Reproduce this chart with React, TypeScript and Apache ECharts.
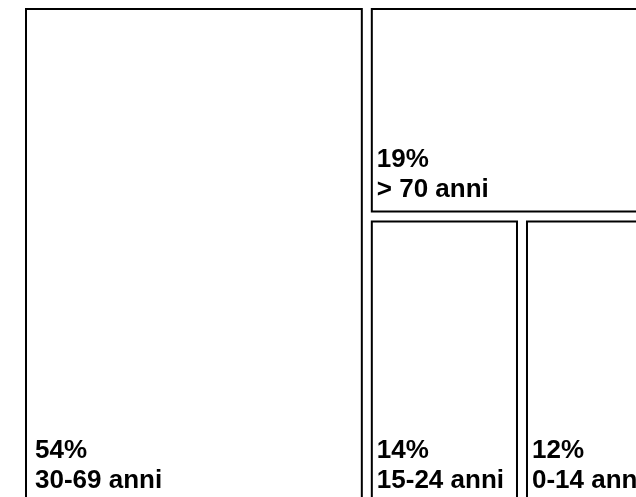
import React, { useEffect, useRef } from "react";
import * as echarts from "echarts";

const categories = ["30-69 anni", "> 70 anni", "15-24 anni", "0-14 anni"];
const percentages = [54, 19, 14, 12];
const labelLeftPadding = [8, 4, 4, 4];

export default function App() {
  const ref = useRef<HTMLDivElement>(null);
  useEffect(() => {
    if (!ref.current) return;
    const chart = echarts.init(ref.current, undefined, { renderer: "svg" });
    const data = categories.map((name, i) => ({
      name,
      value: percentages[i],
      label: { padding: [0, 0, 7, labelLeftPadding[i]] },
    }));
    chart.setOption({
      animation: false,
      series: [
        {
          type: "treemap",
          left: 17,
          top: 0,
          width: 626,
          height: 495,
          roam: false,
          nodeClick: false,
          squareRatio: 1.3,
          breadcrumb: { show: false },
          itemStyle: { color: "#fff", borderColor: "#000", borderWidth: 2, gapWidth: 0 },
          levels: [
            { itemStyle: { color: "#fff", borderColor: "#fff", borderWidth: 0, gapWidth: 8 } },
            { itemStyle: { color: "#fff", borderColor: "#000", borderWidth: 2, gapWidth: 0 } },
          ],
          label: {
            show: true,
            position: "insideBottomLeft",
            distance: 0,
            formatter: (p: any) => `${p.value}%\n${p.name}`,
            color: "#000",
            fontFamily: "'Liberation Sans', Arial, sans-serif",
            fontWeight: "bold",
            fontSize: 26,
            lineHeight: 30,
            overflow: "none",
          },
          emphasis: { disabled: true },
          data,
        },
      ],
    });
    return () => chart.dispose();
  }, []);
  return (
    <div
      style={{
        position: "fixed",
        left: 0,
        top: 0,
        width: 636,
        height: 497,
        overflow: "hidden",
      }}
    >
      <div
        ref={ref}
        style={{ position: "absolute", left: 8, top: 8, width: 660, height: 520 }}
      />
    </div>
  );
}
